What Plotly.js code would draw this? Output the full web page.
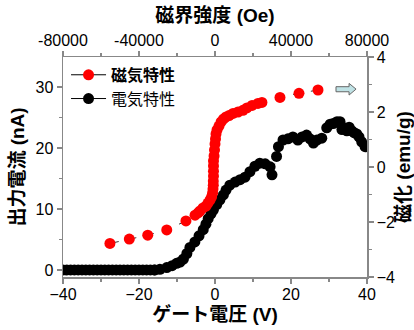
<!DOCTYPE html>
<html>
<head>
<meta charset="utf-8">
<script src="https://cdn.plot.ly/plotly-3.0.1.min.js"></script>
<style>html,body{margin:0;padding:0;background:#fff;}#chart{width:414px;height:330px;}</style>
</head>
<body>
<div id="chart"></div>
<script>
// 電気特性: gate voltage (V) vs output current (nA)
const gateVoltage = [-40,-39,-38,-37,-36,-35,-34,-33,-32,-31,-30,-29,-28,-27,-26,-25,-24,-23,-22,-21,-20,-19,-18,-17,-16,
  -15.8,-14.5,-12.7,-11.3,-10.1,-9.2,-8.3,-7.4,-6.6,-5.3,-4.2,-3.1,-2.4,-1.8,-1.05,-0.45,0.45,1.3,2.2,2.9,3.9,5.3,6.6,7.9,9.2,10.5,11.8,13.2,14.5,15.0,
  16.2,16.7,17.9,19.2,20.5,21.8,22.9,24.1,25.0,25.9,26.8,28.1,29.4,30.3,31.1,32.1,32.9,33.4,33.9,34.7,35.3,36.0,36.6,37.3,37.9,38.6,39.5];
const outputCurrent = [0,0,0,0,0,0,0,0,0,0,0,0,0,0,0,0,0,0,0,0,0,0,0,0,0,
  0,0.1,0.4,0.7,1.1,1.3,1.8,2.7,3.7,4.6,5.6,6.6,7.5,8.4,9.2,9.8,10.7,11.5,12.3,13.1,13.9,14.4,14.8,15.2,16.1,17.0,17.5,17.4,16.9,15.6,
  18.6,20.2,21.3,21.5,21.8,21.3,21.8,22.1,21.5,20.8,21.3,21.6,23.3,23.9,24.0,24.3,24.3,23.0,23.3,22.8,23.4,22.8,22.5,22.3,21.8,21.0,20.2];

// 磁気特性: magnetic field (Oe) vs magnetization (emu/g)
const magField = [-55300,-45100,-35400,-25400,-15300,-10500,-8900,-7900,-6300,-4700,-3700,-2600,-1800,-1300,-1050,-900,-900,-800,-800,-800,-800,
  -500,-260,0,260,530,1050,2100,3200,4500,5800,7400,9500,12100,14700,16800,19500,22600,24700,34200,44200,54200];
const magnetization = [-2.78,-2.62,-2.48,-2.29,-1.96,-1.75,-1.67,-1.60,-1.49,-1.42,-1.31,-1.20,-1.09,-0.95,-0.80,-0.66,-0.51,-0.33,-0.15,0.04,0.22,
  0.40,0.62,0.84,1.02,1.20,1.35,1.49,1.64,1.75,1.82,1.87,1.95,2.00,2.06,2.15,2.24,2.31,2.35,2.53,2.68,2.80];

const xTickVals = [-40,-20,0,20,40];
const x2TickVals = [-80000,-40000,0,40000,80000];
const x2TickText = ['-80000','-40000','0','40000','80000'];
const yTickVals = [0,10,20,30];
const y2TickVals = [-4,-2,0,2,4];

const tickFont = {family: 'Liberation Sans, Arial, sans-serif', size: 16, color: '#000'};
const titleFont = {family: 'Liberation Sans, Noto Sans CJK JP, sans-serif', size: 19, color: '#000', weight: 'bold'};
const axisCommon = {
  showgrid: false, zeroline: false, showline: true, linecolor: '#888', linewidth: 1.5,
  ticks: 'outside', ticklen: 5, tickcolor: '#888', tickwidth: 1.2, tickfont: tickFont,
  fixedrange: true
};

const traces = [
  {x: gateVoltage, y: outputCurrent, xaxis: 'x', yaxis: 'y', type: 'scatter', mode: 'lines+markers',
   line: {color: '#000', width: 1, dash: 'dash'}, marker: {color: '#000', size: 11}, showlegend: false},
  {x: magField, y: magnetization, xaxis: 'x2', yaxis: 'y2', type: 'scatter', mode: 'lines+markers',
   line: {color: '#333', width: 1, dash: 'dash'}, marker: {color: '#ff0000', size: 11}, showlegend: false},
  {x: [null], y: [null], type: 'scatter', mode: 'lines+markers', name: '<b>磁気特性</b>', legend: 'legend',
   line: {color: '#000', width: 1}, marker: {color: '#ff0000', size: 11}},
  {x: [null], y: [null], type: 'scatter', mode: 'lines+markers', name: '電気特性', legend: 'legend2',
   line: {color: '#000', width: 1}, marker: {color: '#000', size: 11}}
];

const legendFont = {family: 'Noto Sans CJK JP, sans-serif', size: 16, color: '#000'};
const layout = {
  width: 414, height: 330,
  margin: {l: 63, r: 47, t: 57, b: 53},
  paper_bgcolor: '#fff', plot_bgcolor: '#fff',
  font: {family: 'Liberation Sans, Noto Sans CJK JP, sans-serif', color: '#000'},
  xaxis: Object.assign({}, axisCommon, {
    range: [-40, 40], tickvals: xTickVals, ticklabelstandoff: -3,
    minor: {dtick: 10, tick0: 0, ticks: 'outside', ticklen: 3, tickcolor: '#888'},
    title: {text: 'ゲート電圧 (V)', font: titleFont, standoff: 6}
  }),
  xaxis2: Object.assign({}, axisCommon, {
    range: [-80000, 80000], tickvals: x2TickVals, ticktext: x2TickText, overlaying: 'x', side: 'top', anchor: 'y',
    ticklabelstandoff: -2,
    minor: {dtick: 20000, tick0: 0, ticks: 'outside', ticklen: 3, tickcolor: '#888'},
    title: {text: '磁界強度 (Oe)', font: titleFont, standoff: 4}
  }),
  yaxis: Object.assign({}, axisCommon, {
    range: [-1.15, 34.9], tickvals: yTickVals, minor: {dtick: 5, tick0: 0, ticks: 'outside', ticklen: 3, tickcolor: '#888'},
    title: {text: '出力電流 (nA)', font: titleFont, standoff: 6}
  }),
  yaxis2: Object.assign({}, axisCommon, {
    range: [-4, 4], tickvals: y2TickVals, overlaying: 'y', side: 'right', anchor: 'x',
    minor: {dtick: 1, tick0: 0, ticks: 'outside', ticklen: 3, tickcolor: '#888'},
    title: {text: '磁化 (emu/g)', font: titleFont, standoff: 6}
  }),
  legend: {x: 0.01, y: 0.996, xanchor: 'left', yanchor: 'top', bgcolor: 'rgba(0,0,0,0)',
           font: legendFont, itemwidth: 35, itemclick: false},
  legend2: {x: 0.01, y: 0.888, xanchor: 'left', yanchor: 'top', bgcolor: 'rgba(0,0,0,0)',
           font: legendFont, itemwidth: 35, itemclick: false},
  shapes: [{
    type: 'path', xref: 'paper', yref: 'paper',
    path: 'M 0.898 0.865 L 0.941 0.865 L 0.941 0.880 L 0.964 0.854 L 0.941 0.827 L 0.941 0.842 L 0.898 0.842 Z',
    fillcolor: '#bfe2e5', line: {color: '#666', width: 1}
  }],
  showlegend: true
};

Plotly.newPlot('chart', traces, layout, {displayModeBar: false, staticPlot: true});
</script>
</body>
</html>
